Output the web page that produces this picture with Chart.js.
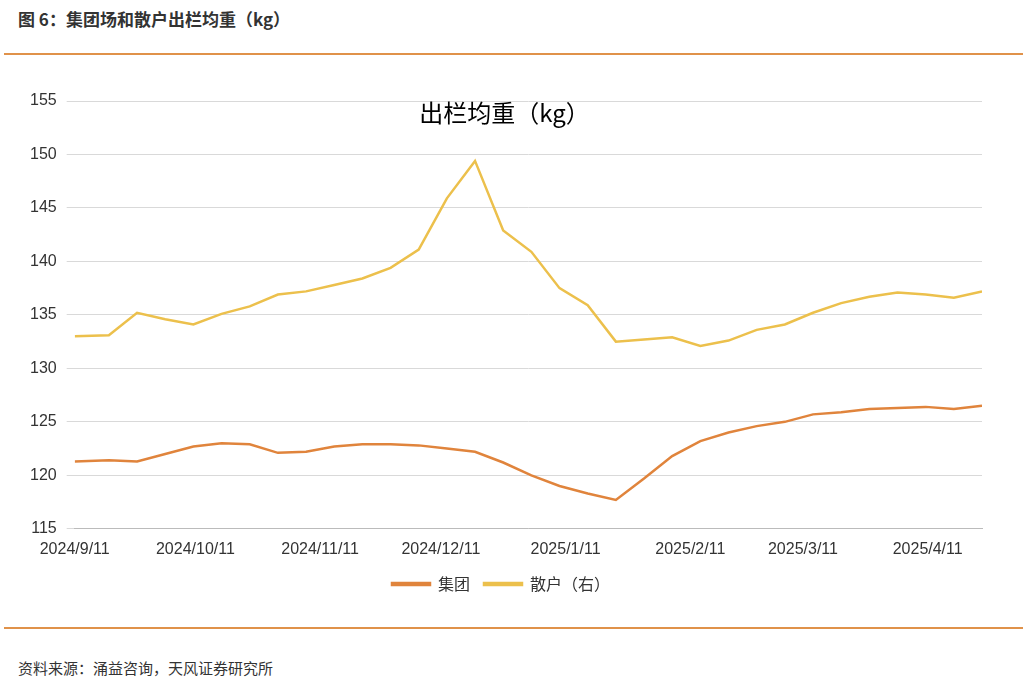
<!DOCTYPE html>
<html><head><meta charset="utf-8">
<script src="https://cdn.jsdelivr.net/npm/chart.js@4"></script>
<style>
body{margin:0;width:1027px;height:683px;background:#fff;font-family:"Noto Sans CJK SC",sans-serif;position:relative;overflow:hidden}
#t{position:absolute;left:18px;top:6px;font-size:17px;font-weight:bold;color:#333}
#ct{position:absolute;left:0;width:1009px;text-align:center;top:94px;font-size:24px;line-height:36px;color:#000}
.ln{position:absolute;left:4px;width:1019px;height:2px;background:#e0924a}
#s{position:absolute;left:18px;top:657px;font-size:15px;color:#333}
#c{position:absolute;left:0;top:72px}
</style></head><body>
<div id="t">图 6：集团场和散户出栏均重（kg）</div>
<div class="ln" style="top:53px"></div>
<div class="ln" style="top:627px"></div>
<div id="s">资料来源：涌益咨询，天风证券研究所</div>
<canvas id="c" width="1027" height="530"></canvas>
<div id="ct">出栏均重（kg）</div>
<script>
const days=[0,8.5,15.5,22.5,29.5,36.5,43.5,50.5,57.5,64.5,71.5,78.5,85.5,92.5,99.5,106.5,113.5,120.5,127.5,134.5,141.5,148.5,155.5,162.5,169.5,176.5,183.5,190.5,197.5,204.5,211.5,218.5,225.5];
const groupVals=[121.3,121.4,121.3,122.0,122.7,123.0,122.9,122.1,122.2,122.7,122.9,122.9,122.8,122.5,122.2,121.2,120.0,119.0,118.3,117.7,119.7,121.8,123.2,124.0,124.6,125.0,125.7,125.9,126.2,126.3,126.4,126.2,126.5];
const retailVals=[133.0,133.1,135.2,134.6,134.1,135.1,135.8,136.9,137.2,137.8,138.4,139.4,141.1,145.9,149.4,142.9,140.9,137.5,135.9,132.5,132.7,132.9,132.1,132.6,133.6,134.1,135.2,136.1,136.7,137.1,136.9,136.6,137.2];
const tickDays=[0,30,61,91,122,153,181,212];
const tickLabels=['2024/9/11','2024/10/11','2024/11/11','2024/12/11','2025/1/11','2025/2/11','2025/3/11','2025/4/11'];
const pts=v=>v.map((y,i)=>({x:days[i],y}));
new Chart(document.getElementById('c'),{type:'line',
data:{datasets:[
{label:'集团',data:pts(groupVals),borderColor:'#e0843c',borderWidth:2.5,pointRadius:0,tension:0},
{label:'散户（右）',data:pts(retailVals),borderColor:'#ecc04c',borderWidth:2.5,pointRadius:0,tension:0}]},
options:{responsive:false,animation:false,
layout:{padding:{left:20,right:45,top:29,bottom:0}},
plugins:{legend:{position:'bottom',labels:{boxWidth:38,boxHeight:2,color:'#333',font:{size:16,family:'Noto Sans CJK SC'},padding:14}}},
scales:{x:{type:'linear',min:0,max:225.5,grid:{display:false},border:{color:'#bbb'},
afterBuildTicks:a=>{a.ticks=tickDays.map(v=>({value:v}))},
ticks:{color:'#333',font:{size:16,family:'Liberation Sans'},maxRotation:0,callback:v=>tickLabels[tickDays.indexOf(v)]}},
y:{min:115,max:155,ticks:{stepSize:5,color:'#333',font:{size:16,family:'Liberation Sans'},padding:10},grid:{color:'#d9d9d9'},border:{display:false}}}}});
</script></body></html>
